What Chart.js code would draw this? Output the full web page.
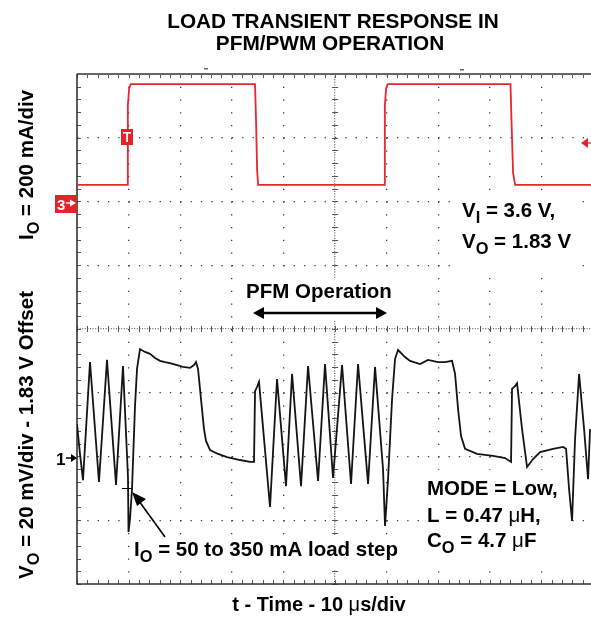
<!DOCTYPE html>
<html><head><meta charset="utf-8">
<script src="https://cdn.jsdelivr.net/npm/chart.js@4.4.1/dist/chart.umd.min.js"></script>
<style>html,body{margin:0;padding:0;background:#fff;overflow:hidden}#wrap{width:591px;height:620px;position:relative}canvas{display:block}</style>
</head><body><div id="wrap"><canvas id="c" width="591" height="620"></canvas></div>
<script>
// ---- data (time in microseconds) ----
const timeI = [0, 9.7, 9.85, 10.1, 10.4, 34.5, 34.7, 34.9, 35.1, 59.5, 59.65, 59.9, 60.2, 84.0, 84.2, 84.5, 84.9, 99.6];
const currentI = [52, 52, 300, 355, 368, 368, 250, 100, 52, 52, 300, 355, 368, 368, 250, 90, 52, 52]; // mA
const timeV = [0, 0.58, 1.16, 2.52, 4.26, 5.81, 7.56, 8.91, 9.88, 9.98, 10.27, 10.66, 11.24, 11.63, 12.21, 13.18, 14.15, 15.12, 16.09, 17.05, 18.02, 19.38, 20.54, 21.90, 22.67, 23.06, 23.45, 24.03, 24.61, 25.00, 25.78, 27.33, 29.07, 31.59, 33.53, 34.30, 34.50, 34.88, 35.27, 37.40, 38.76, 40.50, 41.67, 43.41, 44.77, 46.71, 48.06, 49.61, 51.36, 53.10, 54.46, 56.40, 57.75, 59.30, 59.69, 60.27, 61.05, 61.63, 62.21, 63.57, 64.53, 66.47, 68.02, 69.96, 71.32, 72.67, 73.26, 73.84, 74.42, 75.19, 77.52, 80.62, 82.95, 84.11, 84.30, 84.88, 85.27, 86.24, 87.21, 88.37, 89.73, 92.25, 94.19, 94.77, 95.35, 95.93, 96.51, 97.29, 98.26, 99.03, 99.42];
const voltageV = [10.2, 0.8, -7.4, 29.6, -8.0, 30.3, -8.9, 28.4, -6.4, -23.7, -19.6, -10.2, 15.8, 27.5, 33.7, 32.8, 32.2, 30.9, 30.0, 29.6, 29.3, 28.7, 28.1, 27.8, 28.7, 29.6, 27.5, 18.0, 8.6, 4.9, 2.0, 0.8, -0.2, -1.1, -1.7, -1.7, 20.5, 21.8, 23.4, -15.8, 24.3, -9.3, 25.9, -9.3, 28.4, -7.7, 29.0, -6.7, 28.7, -8.6, 29.0, -8.6, 28.1, -3.9, -21.8, -7.1, 18.0, 30.6, 33.4, 31.2, 30.0, 29.0, 30.3, 29.6, 29.6, 30.0, 25.9, 14.9, 6.4, 2.4, 0.8, 0.2, -0.5, -1.7, 21.2, 22.1, 23.0, 8.6, -3.3, -0.8, 1.4, 2.4, 3.0, 2.4, -10.2, -20.2, 5.5, 25.9, 8.6, -7.1, 8.6]; // mV (AC offset from 1.83 V)
const xMajorTicks = [0, 10, 20, 30, 40, 50, 60, 70, 80, 90, 100]; // µs, 10 µs/div
const yMajorTicks = [-4, -3, -2, -1, 0, 1, 2, 3, 4];               // divisions

const FONT = '"Liberation Sans", Arial, Helvetica, sans-serif';

function drawRich(ctx, parts, x, y, size, align) {
  // parts: [text, flags] flags: 's' subscript, 'n' normal weight
  const fontFor = (f) => (f.includes('n') ? '' : 'bold ') + (f.includes('s') ? size * 0.8 : size) + 'px ' + FONT;
  let w = 0;
  for (const [t, f] of parts) { ctx.font = fontFor(f || ''); w += ctx.measureText(t).width; }
  let cx = align === 'center' ? x - w / 2 : (align === 'right' ? x - w : x);
  ctx.textAlign = 'left'; ctx.textBaseline = 'alphabetic';
  for (const [t, f] of parts) {
    const fl = f || '';
    ctx.font = fontFor(fl);
    ctx.fillText(t, cx, y + (fl.includes('s') ? size * 0.3 : 0));
    cx += ctx.measureText(t).width;
  }
  return w;
}

const scopePlugin = {
  id: 'scope',
  beforeDatasetsDraw(chart) {
    const ctx = chart.ctx, a = chart.chartArea, sx = chart.scales.x, sy = chart.scales.y;
    ctx.save();
    // center cross minor ticks and border minor ticks
    ctx.strokeStyle = '#555'; ctx.lineWidth = 1;
    const cx = sx.getPixelForValue(50), cy = sy.getPixelForValue(0);
    for (let t = 0; t <= 100; t += 2) {
      const px = Math.round(sx.getPixelForValue(t)) + 0.5;
      ctx.beginPath(); ctx.moveTo(px, cy - 3); ctx.lineTo(px, cy + 3); ctx.stroke();
      ctx.beginPath(); ctx.moveTo(px, a.bottom); ctx.lineTo(px, a.bottom - 4); ctx.stroke();
      ctx.beginPath(); ctx.moveTo(px, a.top); ctx.lineTo(px, a.top + 4); ctx.stroke();
    }
    for (let v = -4; v <= 4.001; v += 0.2) {
      const py = Math.round(sy.getPixelForValue(v)) + 0.5;
      ctx.beginPath(); ctx.moveTo(cx - 3, py); ctx.lineTo(cx + 3, py); ctx.stroke();
      ctx.beginPath(); ctx.moveTo(a.left, py); ctx.lineTo(a.left + 4, py); ctx.stroke();
    }
    // frame
    ctx.strokeStyle = '#666'; ctx.lineWidth = 2.2;
    ctx.beginPath(); ctx.moveTo(a.left, a.top); ctx.lineTo(a.right, a.top); ctx.stroke();
    ctx.strokeStyle = '#333'; ctx.lineWidth = 1.6;
    ctx.beginPath(); ctx.moveTo(a.left, a.top); ctx.lineTo(a.left, a.bottom); ctx.lineTo(a.right, a.bottom); ctx.stroke();
    // white label boxes
    ctx.fillStyle = '#fff';
    ctx.fillRect(457, 195, 125, 75);
    ctx.fillRect(424, 470, 142, 90);
    ctx.fillRect(131, 535, 280, 34);
    ctx.fillRect(242, 278, 156, 42);
    ctx.restore();
  },
  afterDatasetsDraw(chart) {
    const ctx = chart.ctx;
    ctx.save();
    ctx.fillStyle = '#000';
    // title
    drawRich(ctx, [['LOAD TRANSIENT RESPONSE IN']], 333, 28, 20.8, 'center');
    drawRich(ctx, [['PFM/PWM OPERATION']], 330, 50, 20.8, 'center');
    // axis titles
    ctx.save(); ctx.translate(33, 165); ctx.rotate(-Math.PI / 2);
    drawRich(ctx, [['I'], ['O', 's'], [' = 200 mA/div']], 0, 0, 20.5, 'center');
    ctx.restore();
    ctx.save(); ctx.translate(33, 435); ctx.rotate(-Math.PI / 2);
    drawRich(ctx, [['V'], ['O', 's'], [' = 20 mV/div - 1.83 V Offset']], 0, 0, 20.5, 'center');
    ctx.restore();
    drawRich(ctx, [['t - Time - 10 '], ['\u03bc', 'n'], ['s/div']], 319, 611, 20, 'center');
    // annotations
    drawRich(ctx, [['V'], ['I', 's'], [' = 3.6 V,']], 462, 217, 20.5, 'left');
    drawRich(ctx, [['V'], ['O', 's'], [' = 1.83 V']], 462, 248, 20.5, 'left');
    drawRich(ctx, [['PFM Operation']], 319, 298, 20.5, 'center');
    drawRich(ctx, [['MODE = Low,']], 427, 495, 20.5, 'left');
    drawRich(ctx, [['L = 0.47 '], ['\u03bc', 'n'], ['H,']], 427, 522, 20.5, 'left');
    drawRich(ctx, [['C'], ['O', 's'], [' = 4.7 '], ['\u03bc', 'n'], ['F']], 427, 547, 20.5, 'left');
    drawRich(ctx, [['I'], ['O', 's'], [' = 50 to 350 mA load step']], 134, 556, 20.5, 'left');
    // PFM double arrow
    ctx.strokeStyle = '#000'; ctx.lineWidth = 2.6;
    ctx.beginPath(); ctx.moveTo(260, 313); ctx.lineTo(380, 313); ctx.stroke();
    ctx.beginPath(); ctx.moveTo(253, 313); ctx.lineTo(264, 307); ctx.lineTo(264, 319); ctx.closePath(); ctx.fill();
    ctx.beginPath(); ctx.moveTo(387, 313); ctx.lineTo(376, 307); ctx.lineTo(376, 319); ctx.closePath(); ctx.fill();
    // load step arrow
    ctx.lineWidth = 1.6;
    ctx.beginPath(); ctx.moveTo(165, 537); ctx.lineTo(139, 501); ctx.stroke();
    ctx.beginPath(); ctx.moveTo(132, 492); ctx.lineTo(146, 499); ctx.lineTo(137, 506); ctx.closePath(); ctx.fill();
    // cursor mark
    ctx.lineWidth = 1;
    ctx.beginPath(); ctx.moveTo(122, 488.5); ctx.lineTo(132, 488.5); ctx.stroke();
    // channel 1 marker
    drawRich(ctx, [['1']], 56, 465, 17, 'left');
    ctx.lineWidth = 1.5;
    ctx.beginPath(); ctx.moveTo(66, 458); ctx.lineTo(73, 458); ctx.stroke();
    ctx.beginPath(); ctx.moveTo(77, 458); ctx.lineTo(71, 454); ctx.lineTo(71, 462); ctx.closePath(); ctx.fill();
    // channel 3 marker (red)
    ctx.fillStyle = '#e3242b';
    ctx.fillRect(55, 195, 22, 18);
    ctx.fillStyle = '#fff';
    drawRich(ctx, [['3']], 57, 210, 15, 'left');
    ctx.strokeStyle = '#fff'; ctx.lineWidth = 1.3;
    ctx.beginPath(); ctx.moveTo(66, 203); ctx.lineTo(72, 203); ctx.stroke();
    ctx.beginPath(); ctx.moveTo(76, 203); ctx.lineTo(70, 199.5); ctx.lineTo(70, 206.5); ctx.closePath(); ctx.fill();
    // trigger marker
    ctx.fillStyle = '#e3242b';
    ctx.fillRect(121, 129, 12, 16);
    ctx.fillStyle = '#fff';
    ctx.fillRect(123, 132, 8, 1.6);
    ctx.fillRect(126.2, 132, 1.8, 10);
    // trigger level arrow (right)
    ctx.fillStyle = '#e3242b'; ctx.strokeStyle = '#e3242b';
    ctx.beginPath(); ctx.moveTo(581, 143); ctx.lineTo(588, 138); ctx.lineTo(588, 148); ctx.closePath(); ctx.fill();
    ctx.lineWidth = 1.3;
    ctx.beginPath(); ctx.moveTo(586, 143); ctx.lineTo(591, 143); ctx.stroke();
    // trigger position marks on top
    ctx.fillStyle = '#666';
    ctx.fillRect(204, 68, 4, 1.5);
    ctx.fillRect(460, 69, 4, 1.5);
    ctx.restore();
  }
};

const centerDash = [1, 1.6];
new Chart(document.getElementById('c'), {
  type: 'line',
  data: {
    datasets: [
      {
        label: 'I_O',
        data: timeI.map((t, i) => ({ x: t, y: currentI[i] })),
        yAxisID: 'yI',
        borderColor: '#e8262c',
        borderWidth: 1.8,
        pointRadius: 0,
        tension: 0
      },
      {
        label: 'V_O',
        data: timeV.map((t, i) => ({ x: t, y: voltageV[i] })),
        yAxisID: 'yV',
        borderColor: '#141414',
        borderWidth: 1.8,
        pointRadius: 0,
        tension: 0
      }
    ]
  },
  plugins: [scopePlugin],
  options: {
    responsive: false,
    animation: false,
    events: [],
    layout: { padding: { left: 77, top: 74, right: 0, bottom: 36 } },
    plugins: { legend: { display: false }, tooltip: { enabled: false }, title: { display: false } },
    scales: {
      x: {
        type: 'linear', min: 0, max: 99.6, position: 'bottom',
        afterBuildTicks: (s) => { s.ticks = xMajorTicks.filter(v => v <= s.max).map(v => ({ value: v })); },
        ticks: { display: false },
        grid: {
          drawTicks: false, lineWidth: 1.3,
          color: (c) => (c.tick && c.tick.value > 0 && c.tick.value < 99) ? (c.tick.value === 50 ? '#666' : '#3a3a3a') : 'rgba(0,0,0,0)'
        },
        border: { display: false, dash: (c) => (c.tick && c.tick.value === 50) ? centerDash : [1.3, 11.45] }
      },
      y: {
        type: 'linear', min: -4, max: 4, position: 'left',
        afterBuildTicks: (s) => { s.ticks = yMajorTicks.map(v => ({ value: v })); },
        ticks: { display: false },
        grid: {
          drawTicks: false, lineWidth: 1.3,
          color: (c) => (c.tick && Math.abs(c.tick.value) < 4) ? (c.tick.value === 0 ? '#666' : '#3a3a3a') : 'rgba(0,0,0,0)'
        },
        border: { display: false, dash: (c) => (c.tick && c.tick.value === 0) ? centerDash : [1.3, 9.02] }
      },
      yI: { type: 'linear', display: false, min: -1200, max: 400 },   // 200 mA/div, ch3 ground at +2 div
      yV: { type: 'linear', display: false, min: -40, max: 120 }      // 20 mV/div, ch1 offset at -2 div
    }
  }
});
</script>
</body></html>
